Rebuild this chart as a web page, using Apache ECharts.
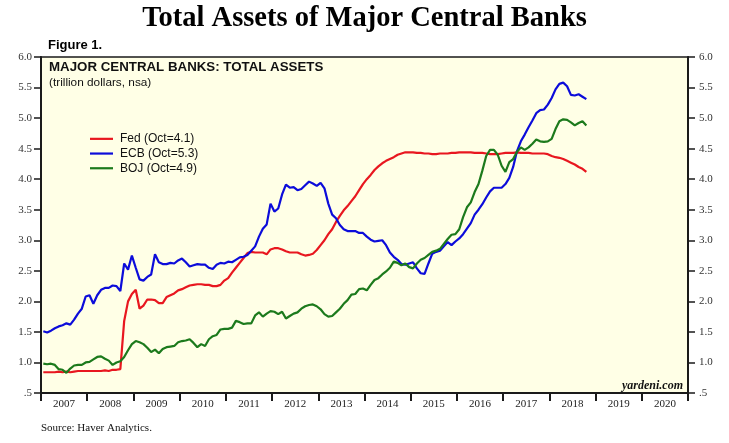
<!DOCTYPE html>
<html><head><meta charset="utf-8">
<script src="https://cdn.jsdelivr.net/npm/echarts@6/dist/echarts.min.js"></script>
<style>html,body{margin:0;padding:0;background:#fff}#c{width:729px;height:443px}</style>
</head><body><div id="c"></div>
<script>
// ---- data (monthly, Jan 2007 .. Oct 2018, trillion dollars) ----
const years = ['2007','2008','2009','2010','2011','2012','2013','2014','2015','2016','2017','2018','2019','2020'];
const startYear = 2007;
const endYear = 2021;
const seriesNames = ['Fed (Oct=4.1)', 'ECB (Oct=5.3)', 'BOJ (Oct=4.9)'];

const fed = [
  0.84,0.84,0.84,0.84,0.85,0.84,0.85,0.84,0.85,0.86,0.86,0.86,
  0.86,0.86,0.86,0.86,0.87,0.86,0.88,0.88,0.89,1.68,2.00,2.12,
  2.19,1.88,1.93,2.03,2.03,2.02,1.97,1.97,2.07,2.10,2.13,2.18,
  2.20,2.23,2.26,2.27,2.28,2.28,2.27,2.27,2.25,2.25,2.27,2.34,
  2.38,2.47,2.55,2.63,2.71,2.79,2.81,2.80,2.80,2.80,2.77,2.85,
  2.87,2.87,2.85,2.82,2.80,2.80,2.80,2.77,2.75,2.76,2.78,2.84,
  2.92,3.00,3.10,3.18,3.30,3.40,3.49,3.56,3.64,3.72,3.82,3.92,
  4.00,4.07,4.15,4.21,4.26,4.30,4.33,4.36,4.40,4.42,4.44,4.44,
  4.44,4.43,4.43,4.42,4.42,4.41,4.41,4.42,4.42,4.42,4.43,4.43,
  4.44,4.44,4.44,4.44,4.43,4.43,4.43,4.42,4.41,4.41,4.41,4.42,
  4.43,4.43,4.43,4.44,4.43,4.43,4.43,4.42,4.42,4.42,4.42,4.41,
  4.38,4.36,4.35,4.33,4.30,4.27,4.24,4.20,4.17,4.12
];
const ecb = [
  1.51,1.49,1.52,1.56,1.59,1.61,1.64,1.62,1.70,1.80,1.88,2.08,
  2.10,1.96,2.10,2.19,2.22,2.22,2.26,2.25,2.17,2.62,2.52,2.75,
  2.55,2.36,2.34,2.40,2.44,2.77,2.64,2.61,2.61,2.63,2.62,2.67,
  2.70,2.64,2.57,2.59,2.61,2.60,2.60,2.55,2.53,2.60,2.63,2.62,
  2.65,2.64,2.68,2.72,2.73,2.76,2.83,2.90,3.06,3.19,3.26,3.60,
  3.47,3.52,3.75,3.91,3.86,3.87,3.82,3.84,3.90,3.96,3.93,3.89,
  3.94,3.85,3.60,3.42,3.36,3.25,3.18,3.15,3.15,3.15,3.12,3.12,
  3.06,3.01,2.98,2.99,3.00,2.92,2.80,2.73,2.68,2.61,2.60,2.62,
  2.64,2.54,2.46,2.45,2.62,2.78,2.81,2.83,2.90,2.97,2.92,2.98,
  3.03,3.10,3.19,3.28,3.42,3.50,3.59,3.70,3.80,3.86,3.86,3.86,
  3.92,4.02,4.20,4.46,4.62,4.73,4.85,4.96,5.08,5.13,5.14,5.22,
  5.33,5.47,5.56,5.58,5.52,5.38,5.37,5.39,5.35,5.31
];
const boj = [
  0.98,0.97,0.98,0.96,0.89,0.88,0.83,0.90,0.95,0.96,0.96,1.00,
  1.01,1.05,1.09,1.10,1.06,1.03,0.96,1.00,1.02,1.09,1.20,1.30,
  1.35,1.33,1.30,1.24,1.17,1.21,1.15,1.22,1.25,1.26,1.27,1.33,
  1.35,1.36,1.38,1.32,1.25,1.30,1.27,1.38,1.43,1.45,1.54,1.55,
  1.55,1.57,1.68,1.66,1.63,1.64,1.64,1.77,1.82,1.75,1.80,1.84,
  1.83,1.79,1.83,1.72,1.76,1.80,1.82,1.88,1.92,1.94,1.95,1.92,
  1.87,1.79,1.75,1.76,1.82,1.88,1.96,2.02,2.11,2.12,2.20,2.21,
  2.18,2.27,2.35,2.38,2.44,2.49,2.55,2.65,2.63,2.59,2.62,2.56,
  2.54,2.62,2.68,2.71,2.76,2.81,2.83,2.86,2.94,3.02,3.09,3.10,
  3.18,3.38,3.54,3.62,3.79,3.92,4.14,4.38,4.48,4.48,4.40,4.22,
  4.12,4.28,4.33,4.45,4.52,4.48,4.52,4.58,4.65,4.62,4.61,4.62,
  4.66,4.82,4.95,4.98,4.97,4.93,4.88,4.92,4.95,4.88
];

function toPoints(arr) {
  return arr.map((v, i) => [startYear + (i + 0.6) / 12, v]);
}

const serif = "'Liberation Serif','Times New Roman',serif";
const sans = "'Liberation Sans',Arial,sans-serif";
const axisColor = '#1a1a1a';

const yAxisCommon = {
  type: 'value', min: 0.5, max: 6, interval: 0.5,
  splitLine: { show: false },
  axisLine: { show: true, lineStyle: { color: axisColor, width: 2 } },
  axisTick: { show: true, inside: false, length: 7, lineStyle: { color: axisColor, width: 1.5 } },
  axisLabel: {
    fontFamily: serif, fontSize: 11, color: '#333',
    formatter: v => (Math.abs(v - 0.5) < 1e-9 ? '.5' : v.toFixed(1))
  }
};

const chart = echarts.init(document.getElementById('c'), null, { renderer: 'canvas' });
chart.setOption({
  backgroundColor: '#ffffff',
  animation: false,
  grid: {
    left: 41, right: 41, top: 57, bottom: 50,
    show: true, backgroundColor: '#FFFFE6', borderColor: axisColor, borderWidth: 1.5
  },
  xAxis: [
    {
      type: 'category', data: years, boundaryGap: true, position: 'bottom',
      axisLine: { show: true, lineStyle: { color: axisColor, width: 2 } },
      axisTick: { show: true, inside: false, length: 8, interval: 0, lineStyle: { color: axisColor, width: 2 } },
      axisLabel: { interval: 0, fontFamily: serif, fontSize: 11, color: '#222', margin: 6 },
      splitLine: { show: false }
    },
    { type: 'value', min: startYear, max: endYear, show: false }
  ],
  yAxis: [
    Object.assign({}, yAxisCommon, { position: 'left', axisLabel: Object.assign({}, yAxisCommon.axisLabel, { margin: 9 }) }),
    Object.assign({}, yAxisCommon, { position: 'right', axisLabel: Object.assign({}, yAxisCommon.axisLabel, { margin: 11 }) })
  ],
  legend: {
    orient: 'vertical', left: 90, top: 132, padding: 0,
    icon: 'rect', itemWidth: 23, itemHeight: 2.2, itemGap: 1,
    textStyle: { fontFamily: sans, fontSize: 12, lineHeight: 13.7, color: '#111', padding: [0, 0, 0, 2] },
    data: seriesNames
  },
  series: [
    { name: seriesNames[0], type: 'line', xAxisIndex: 1, yAxisIndex: 0, data: toPoints(fed),
      symbol: 'none', showSymbol: false, color: '#E8171F', lineStyle: { width: 2.2, color: '#E8171F' }, z: 3 },
    { name: seriesNames[1], type: 'line', xAxisIndex: 1, yAxisIndex: 0, data: toPoints(ecb),
      symbol: 'none', showSymbol: false, color: '#0C0CDA', lineStyle: { width: 2.2, color: '#0C0CDA' }, z: 4 },
    { name: seriesNames[2], type: 'line', xAxisIndex: 1, yAxisIndex: 0, data: toPoints(boj),
      symbol: 'none', showSymbol: false, color: '#1C7A1C', lineStyle: { width: 2.2, color: '#1C7A1C' }, z: 5 }
  ],
  graphic: [
    { type: 'text', x: 364.5, y: 19, style: { text: 'Total Assets of Major Central Banks', font: "bold 28.5px " + serif, fill: '#000', align: 'center', verticalAlign: 'middle' } },
    { type: 'text', x: 48, y: 45, style: { text: 'Figure 1.', font: "bold 13px " + sans, fill: '#000', align: 'left', verticalAlign: 'middle' } },
    { type: 'text', x: 49, y: 67, z: 10, style: { text: 'MAJOR CENTRAL BANKS: TOTAL ASSETS', font: "bold 13.3px " + sans, fill: '#111', align: 'left', verticalAlign: 'middle' } },
    { type: 'text', x: 49, y: 82.5, z: 10, style: { text: '(trillion dollars, nsa)', font: "11.8px " + sans, fill: '#111', align: 'left', verticalAlign: 'middle' } },
    { type: 'text', x: 683, y: 385.5, z: 10, style: { text: 'yardeni.com', font: "italic bold 12px " + serif, fill: '#111', align: 'right', verticalAlign: 'middle' } },
    { type: 'text', x: 41, y: 428, style: { text: 'Source: Haver Analytics.', font: "11px " + serif, fill: '#111', align: 'left', verticalAlign: 'middle' } }
  ]
});
</script>
</body></html>
